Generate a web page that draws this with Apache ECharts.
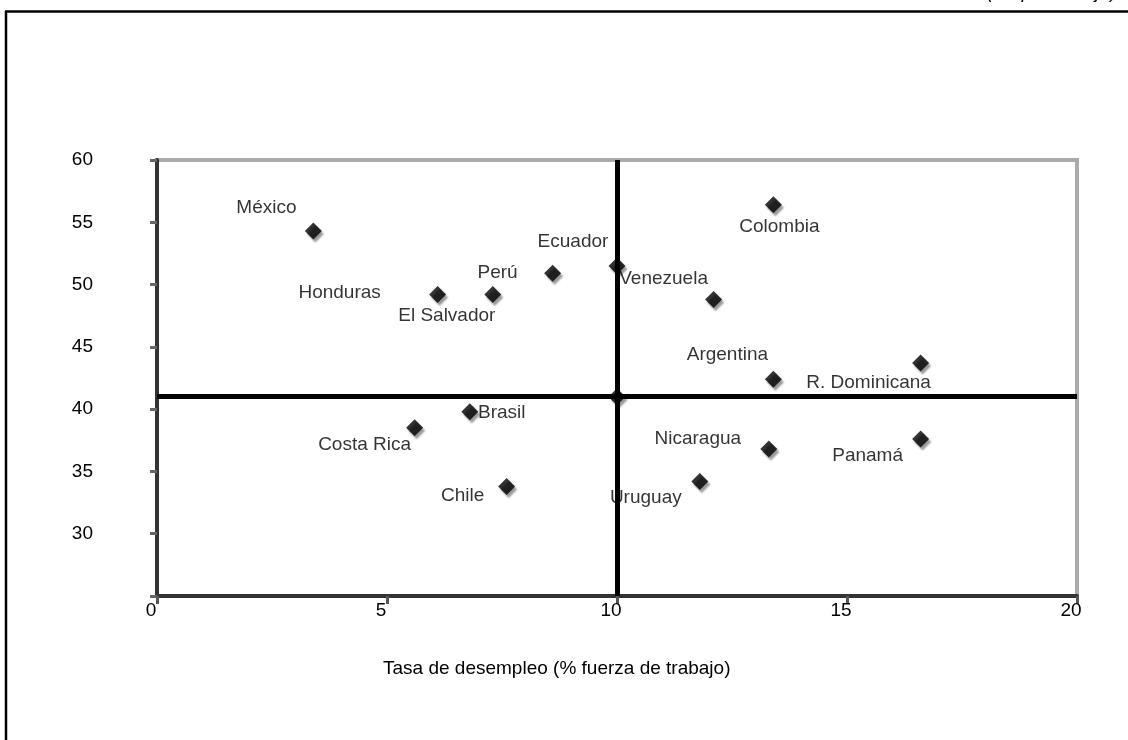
<!DOCTYPE html>
<html>
<head>
<meta charset="utf-8">
<title>Desempleo</title>
<script src="https://cdn.jsdelivr.net/npm/echarts@6/dist/echarts.min.js"></script>
<style>
  html, body { margin: 0; padding: 0; background: #fff; }
  #chart { width: 1128px; height: 740px; }
</style>
</head>
<body>
<div id="chart"></div>
<script>
// datos
var paises = ["México", "Honduras", "El Salvador", "Perú", "Ecuador", "Venezuela", "Colombia",
  "Argentina", "R. Dominicana", "Brasil", "Costa Rica", "Chile", "Nicaragua", "Uruguay", "Panamá"];
var desempleo = [3.4, 6.1, 7.3, 8.6, 10.0, 12.1, 13.4, 13.4, 16.6, 6.8, 5.6, 7.6, 13.3, 11.8, 16.6];
var ejeY = [54.3, 49.2, 49.2, 50.9, 51.5, 48.8, 56.4, 42.4, 43.7, 39.8, 38.5, 33.8, 36.8, 34.2, 37.6];
// promedios (lineas de cruce)
var mediaX = 10;
var mediaY = 41;
var xTicks = [0, 5, 10, 15, 20];
var yTicks = [25, 30, 35, 40, 45, 50, 55, 60];

// donde va cada etiqueta respecto al punto (px)
var labelOffsets = {
  "México": [-47, -23],
  "Honduras": [-98, -2],
  "El Salvador": [-46, 21],
  "Perú": [-55, -1],
  "Ecuador": [-44, -24],
  "Venezuela": [-50, -21],
  "Colombia": [6, 22],
  "Argentina": [-46, -24],
  "R. Dominicana": [-52, 20],
  "Brasil": [32, 1],
  "Costa Rica": [-50, 17],
  "Chile": [-44, 9],
  "Nicaragua": [-71, -10],
  "Uruguay": [-54, 16],
  "Panamá": [-53, 17]
};

var font = "'Liberation Sans', Arial, sans-serif";
var puntos = paises.map(function (p, i) {
  return {
    name: p,
    value: [desempleo[i], ejeY[i]],
    label: { offset: labelOffsets[p] }
  };
});

var markerStyle = {
  color: "#000",
  shadowColor: "rgba(0,0,0,0.5)",
  shadowBlur: 2,
  shadowOffsetX: 2,
  shadowOffsetY: 3
};

var myChart = echarts.init(document.getElementById("chart"));
myChart.setOption({
  animation: false,
  backgroundColor: "#fff",
  grid: {
    left: 157,
    right: 51,
    top: 160,
    bottom: 144,
    show: true,
    borderColor: "#aaa",
    borderWidth: 4,
    outerBoundsMode: "none"
  },
  xAxis: {
    type: "value",
    min: xTicks[0],
    max: xTicks[xTicks.length - 1],
    interval: 5,
    splitLine: { show: false },
    axisLine: { show: true, onZero: false, lineStyle: { color: "#333", width: 4 } },
    axisTick: { show: true, length: 8, lineStyle: { color: "#555", width: 3 } },
    axisLabel: { color: "#000", fontSize: 19, fontFamily: font, margin: 5, padding: [0, 12, 0, 0] }
  },
  yAxis: {
    type: "value",
    min: yTicks[0],
    max: yTicks[yTicks.length - 1],
    interval: 5,
    splitLine: { show: false },
    axisLine: { show: true, onZero: false, lineStyle: { color: "#333", width: 4 } },
    axisTick: { show: true, length: 7, lineStyle: { color: "#666", width: 3 } },
    axisLabel: {
      color: "#000",
      fontSize: 19,
      fontFamily: font,
      margin: 64,
      formatter: function (v) {
        return v === yTicks[0] ? "" : v;
      }
    }
  },
  series: [
    {
      type: "scatter",
      symbol: "diamond",
      symbolSize: 17,
      z: 2,
      itemStyle: markerStyle,
      label: {
        show: true,
        position: "inside",
        formatter: "{b}",
        color: "#000",
        fontSize: 19,
        fontFamily: font,
        textBorderWidth: 0,
        textShadowBlur: 0,
        textShadowColor: "transparent"
      },
      data: puntos
    },
    {
      // punto del promedio, tapado por las lineas
      type: "scatter",
      symbol: "diamond",
      symbolSize: 17,
      z: 2,
      itemStyle: markerStyle,
      data: [[mediaX, mediaY]],
      markLine: {
        silent: true,
        symbol: "none",
        label: { show: false },
        lineStyle: { color: "#000", width: 5, type: "solid" },
        data: [{ xAxis: mediaX }, { yAxis: mediaY }]
      }
    }
  ],
  graphic: [
    {
      type: "line",
      shape: { x1: 6, y1: 11, x2: 6, y2: 740 },
      style: { stroke: "#000", lineWidth: 2.5 }
    },
    {
      type: "line",
      shape: { x1: 5, y1: 11.5, x2: 1128, y2: 11.5 },
      style: { stroke: "#000", lineWidth: 2.5 }
    },
    {
      type: "text",
      right: 6,
      top: -17,
      style: {
        text: "(En porcentaje).",
        fill: "#000",
        font: "italic 19px " + font
      }
    },
    {
      type: "text",
      left: 383,
      top: 659,
      style: {
        text: "Tasa de desempleo (% fuerza de trabajo)",
        fill: "#000",
        font: "19px " + font
      }
    }
  ]
});
</script>
</body>
</html>
